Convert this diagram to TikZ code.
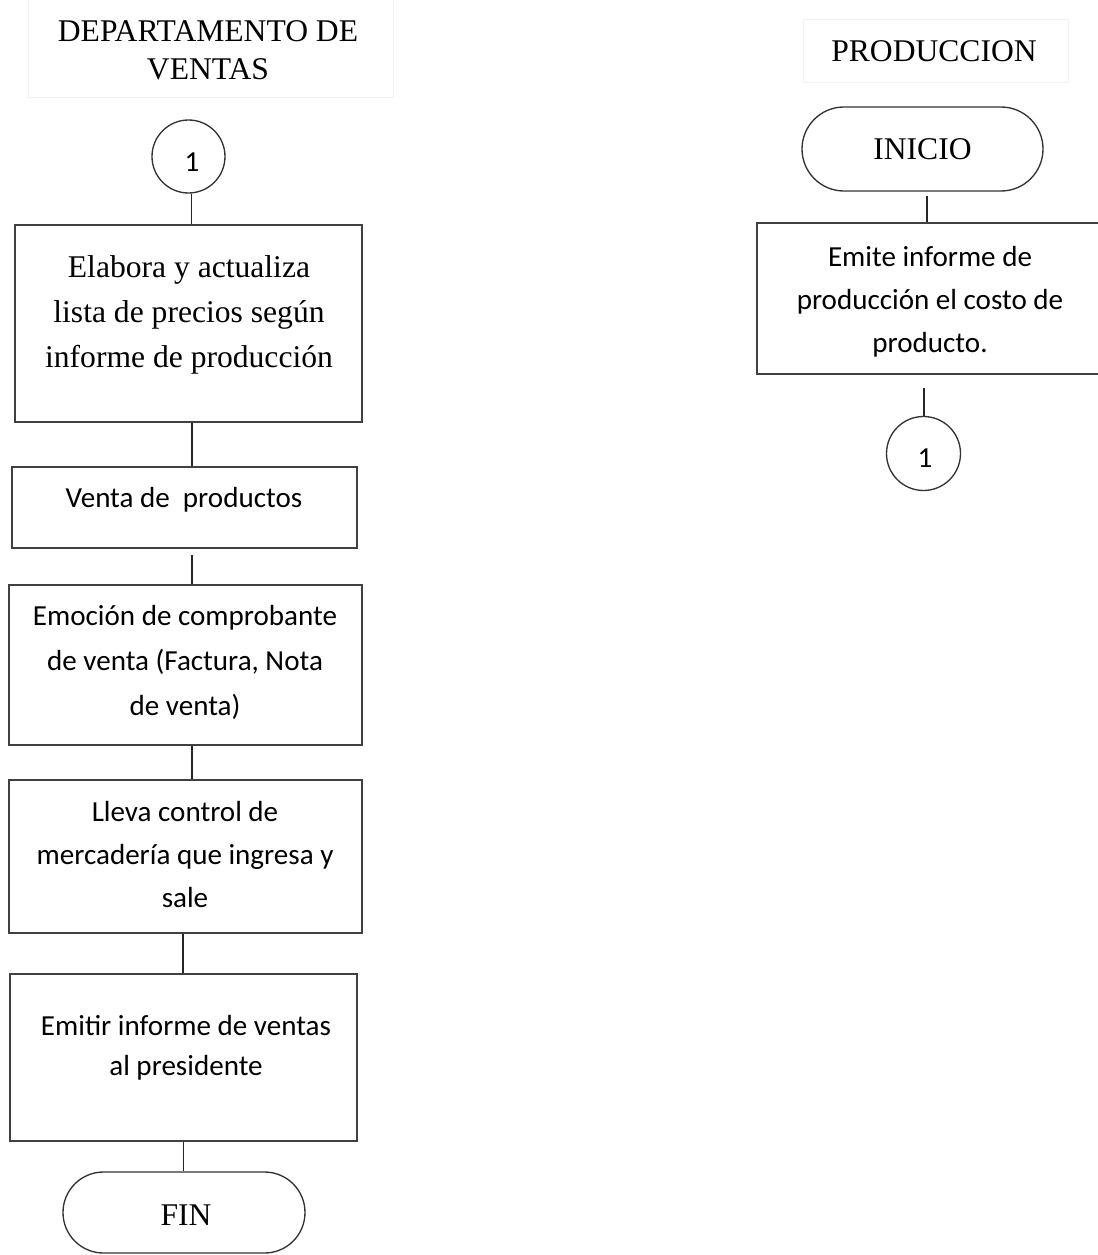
\documentclass[tikz,border=0pt]{standalone}
\usepackage{fontspec}
\setmainfont{Liberation Serif}
\newfontfamily\carlito{Carlito}
\usetikzlibrary{shapes.misc,calc}

\tikzset{
  box/.style={draw=black!75, line width=1.5pt, rectangle, inner sep=0pt},
  term/.style={draw=black!80, line width=1pt, rounded rectangle, inner sep=0pt},
  conn/.style={draw=black!85, line width=1.2pt},
  conncircle/.style={draw=black!80, line width=1pt, circle, inner sep=0pt},
  headbox/.style={draw=black!5, line width=0.75pt},
  serif/.style={font=\fontsize{23.7}{28.5}\selectfont, align=center, anchor=base, inner sep=0pt},
  sans/.style={font=\carlito\fontsize{21.8}{#1}\selectfont, align=center, anchor=base, inner sep=0pt},
}

\begin{document}
\begin{tikzpicture}[x=0.75pt,y=-0.75pt]
  \useasboundingbox[fill=white] (0,0) rectangle (1097,1255);

  % column headers
  \draw[headbox] (28,0) rectangle (393,98);
  \draw[headbox] (803,20) rectangle (1068,83);
  \node[serif] (hv) at (208,80) {DEPARTAMENTO DE\\VENTAS};
  \node[serif] (hp) at (934,62) {PRODUCCION};

  % sales department column
  \node[conncircle, minimum size=54.75pt] (c1) at (188.5,156.5) {};
  \node[sans=26pt] (n1) at (192,172) {1};

  \node[box, minimum width=260.25pt, minimum height=147.75pt] (b1) at (188.5,323.5) {};
  \node[serif, font=\fontsize{23.7}{33.75}\selectfont] (t1) at (189,367)
    {Elabora y actualiza\\lista de precios según\\informe de producción};

  \node[box, minimum width=258.75pt, minimum height=60.75pt] (b2) at (184.5,507.5) {};
  \node[sans=32pt] (t2) at (184,507) {Venta de\ \ productos};

  \node[box, minimum width=264.75pt, minimum height=120pt] (b3) at (185.5,665) {};
  \node[sans=33.4pt] (t3) at (185,715)
    {Emoción de comprobante\\de venta (Factura, Nota\\de venta)};

  \node[box, minimum width=264.75pt, minimum height=114.75pt] (b4) at (185.5,856.5) {};
  \node[sans=32.25pt] (t4) at (185,907)
    {Lleva control de\\mercadería que ingresa y\\sale};

  \node[box, minimum width=260.25pt, minimum height=125.25pt] (b5) at (183.5,1057.5) {};
  \node[sans=30pt] (t5) at (186,1075)
    {Emitir informe de ventas\\al presidente};

  \node[term, minimum width=181.5pt, minimum height=60.75pt] (fin) at (184,1212.5) {};
  \node[serif] (tf) at (186,1225) {FIN};

  % production column
  \node[term, minimum width=180.75pt, minimum height=63pt] (ini) at (922.5,149) {};
  \node[serif] (ti) at (922.5,160) {INICIO};

  \node[box, minimum width=261pt, minimum height=113.25pt] (em) at (931,298.5) {};
  \node[sans=31.9pt] (te) at (930,352)
    {Emite informe de\\producción el costo de\\producto.};

  \node[conncircle, minimum size=55.5pt] (c2) at (923.5,453.5) {};
  \node[sans=26pt] (n2) at (925,467) {1};

  % connectors
  \draw[conn] ($(c1.south)+(3,0)$) -- ($(c1.south |- b1.north)+(3,0)$);
  \draw[conn] ($(b1.south)+(3.5,0)$) -- ($(b1.south |- b2.north)+(3.5,0)$);
  \draw[conn] ($(b2.south)+(7.5,6)$) -- ($(b2.south |- b3.north)+(7.5,0)$);
  \draw[conn] ($(b3.south)+(6.5,0)$) -- ($(b3.south |- b4.north)+(6.5,0)$);
  \draw[conn] ($(b4.south)+(-2.5,0)$) -- ($(b4.south |- b5.north)+(-2.5,0)$);
  \draw[conn] (b5.south) -- (b5.south |- fin.north);
  \draw[conn] ($(ini.south)+(4.5,4)$) -- ($(ini.south |- em.north)+(4.5,0)$);
  \draw[conn] ($(c2.north |- em.south)+(0.5,13)$) -- ($(c2.north)+(0.5,0)$);
\end{tikzpicture}
\end{document}
